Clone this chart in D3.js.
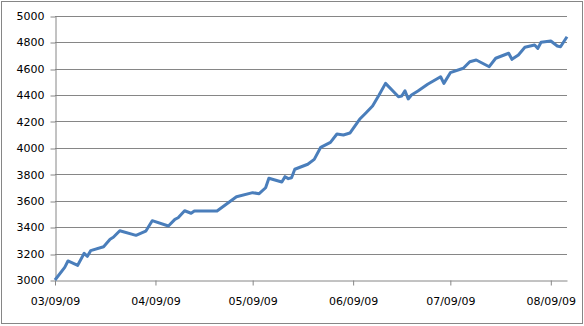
<!DOCTYPE html>
<html>
<head>
<meta charset="utf-8">
<script src="https://cdn.jsdelivr.net/npm/d3@7"></script>
<style>
  body { margin: 0; background: #fff; }
  svg { display: block; }
  .axis text { font-family: "DejaVu Sans", sans-serif; font-size: 11px; fill: #000; }
</style>
</head>
<body>
<svg width="584" height="326"></svg>
<script>
// ---- Dados (dias desde 03/09/09, valor)
const startDate = new Date(2009, 2, 9);
const dayOffsets = [0, 3, 4, 7, 9, 10, 11, 15, 17, 18, 20, 25, 28, 30, 35, 37, 38, 40, 42, 43,
    50, 56, 61, 63, 65, 66, 70, 71, 72, 73, 74, 78, 80, 82, 85, 87, 89, 91, 94, 96,
    98, 100, 102, 106, 107, 108, 109, 110, 112, 115, 119, 120, 122, 126, 128, 130, 134, 136, 140, 141,
    143, 145, 148, 149, 150, 153, 155, 156, 158];
const values = [3000, 3096, 3144, 3111, 3202, 3179, 3222, 3252, 3308, 3323, 3373, 3338, 3369, 3449, 3409, 3459, 3471, 3524, 3505, 3522,
    3522, 3630, 3661, 3653, 3698, 3770, 3742, 3782, 3767, 3774, 3838, 3876, 3913, 4004, 4042, 4105, 4097, 4112, 4216, 4266,
    4317, 4400, 4488, 4387, 4392, 4432, 4370, 4400, 4430, 4481, 4538, 4488, 4569, 4602, 4652, 4665, 4614, 4678, 4716, 4670,
    4703, 4761, 4778, 4753, 4799, 4809, 4771, 4765, 4841];
const yTicks = [3000, 3200, 3400, 3600, 3800, 4000, 4200, 4400, 4600, 4800, 5000];
const xTickDates = [new Date(2009, 2, 9), new Date(2009, 3, 9), new Date(2009, 4, 9),
    new Date(2009, 5, 9), new Date(2009, 6, 9), new Date(2009, 7, 9)];

const data = dayOffsets.map((d, i) => ({ date: d3.timeDay.offset(startDate, d), value: values[i] }));

const svg = d3.select('svg');
const margens = { left: 55, right: 17, top: 15.7, bottom: 46 };
const width = 584, height = 326;

// ---- Borda
svg.append('rect')
    .attr('x', 1.5).attr('y', 1.5)
    .attr('width', 581).attr('height', 322)
    .attr('fill', '#fff')
    .attr('stroke', '#868686');

// ---- Escalas
const mapX = d3.scaleTime()
    .domain([startDate, data[data.length - 1].date])
    .range([margens.left, width - margens.right]);
const mapY = d3.scaleLinear()
    .domain([3000, 5000])
    .range([height - margens.bottom, margens.top]);

// ---- Grade
svg.append('g')
    .selectAll('line')
    .data(yTicks.slice(1))
    .join('line')
    .attr('x1', margens.left)
    .attr('x2', width - margens.right)
    .attr('y1', d => Math.round(mapY(d)) + 0.5)
    .attr('y2', d => Math.round(mapY(d)) + 0.5)
    .attr('stroke', '#868686');

// ---- Eixos
const yAxis = d3.axisLeft(mapY).tickValues(yTicks).tickFormat(d3.format('d'))
    .tickSize(5).tickSizeOuter(0).tickPadding(6);
svg.append('g')
    .attr('class', 'y axis')
    .attr('transform', `translate(${margens.left + 0.5}, 0)`)
    .call(yAxis)
    .call(g => g.select('.domain').attr('stroke', '#868686'))
    .call(g => g.selectAll('.tick line').attr('stroke', '#868686')
        .attr('transform', d => `translate(0, ${Math.round(mapY(d)) + 0.5 - mapY(d)})`))
    .call(g => g.selectAll('.tick text').attr('dy', '0.35em'));

const xAxis = d3.axisBottom(mapX).tickValues(xTickDates).tickFormat(d3.timeFormat('%m/%d/%y'))
    .tickSize(5).tickSizeOuter(0).tickPadding(12);
svg.append('g')
    .attr('class', 'x axis')
    .attr('transform', `translate(0, ${Math.round(mapY(3000)) + 0.5})`)
    .call(xAxis)
    .call(g => g.select('.domain').attr('stroke', '#868686'))
    .call(g => g.selectAll('.tick line').attr('stroke', '#868686'));

// ---- Linha
svg.append('path')
    .datum(data)
    .attr('fill', 'none')
    .attr('stroke', '#4a7ebb')
    .attr('stroke-width', 3)
    .attr('stroke-linejoin', 'round')
    .attr('d', d3.line()
        .x(d => mapX(d.date))
        .y(d => mapY(d.value)));
</script>
</body>
</html>
